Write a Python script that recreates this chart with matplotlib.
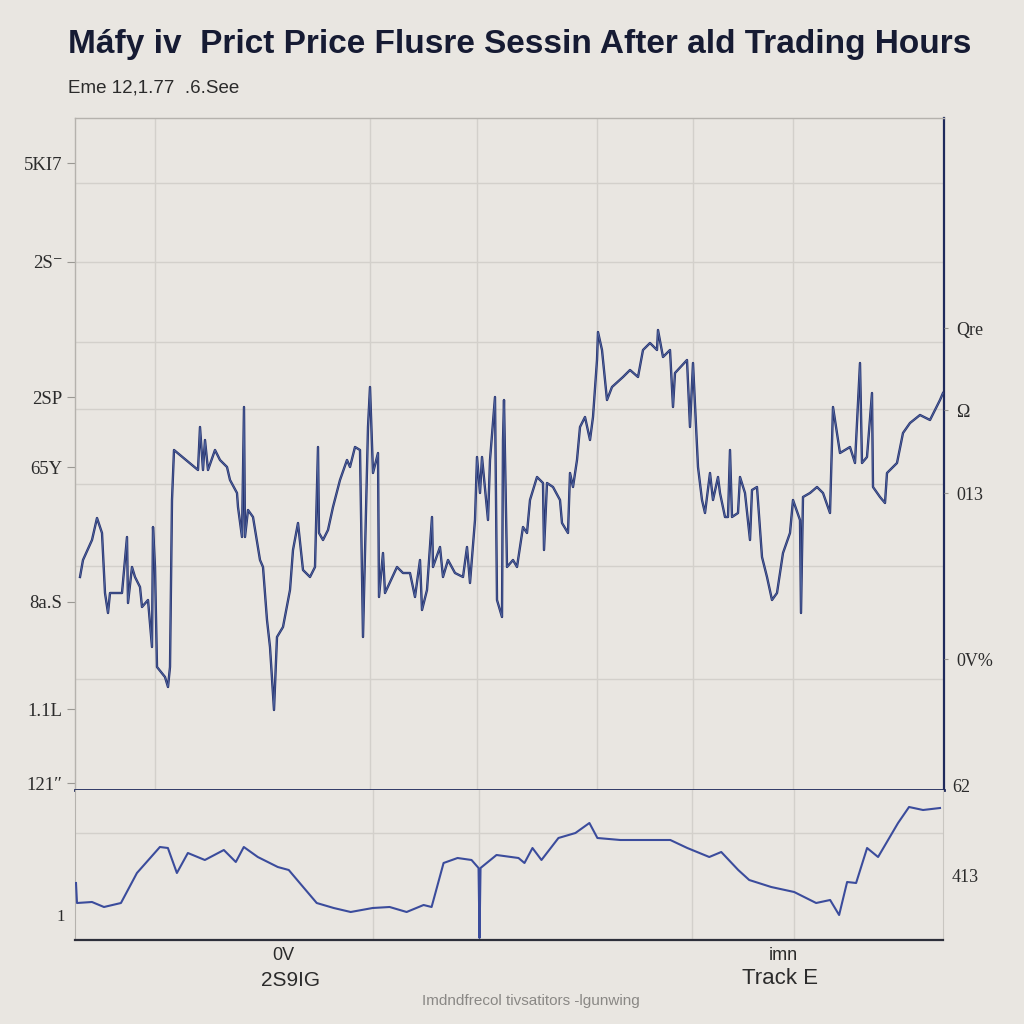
import matplotlib
matplotlib.use('Agg')
import matplotlib.pyplot as plt

BG = '#e9e6e1'
NAVY = '#1f2a5c'
LINE_MAIN = '#26316d'
LINE_SUB = '#3b4c9c'
GRID = '#d3d0cb'
TXT = '#2b2b2b'
SERIF = ['Liberation Serif', 'DejaVu Serif']

# Main session price (minutes since open, price)
t_main = [5, 8, 17, 22, 27, 30, 33, 35, 47, 52, 53, 57, 60, 65, 67, 73, 77, 78, 80, 82,
          90, 93, 95, 97, 99, 123, 125, 128, 130, 133, 140, 145, 152, 155, 162, 163, 167, 169, 170, 173,
          178, 185, 188, 192, 195, 199, 202, 208, 215, 218, 223, 227, 228, 235, 240, 243, 244, 248, 253, 258,
          265, 272, 275, 280, 285, 288, 293, 295, 298, 303, 304, 308, 310, 322, 328, 335, 340, 345, 347, 352,
          357, 358, 365, 368, 373, 380, 388, 392, 395, 400, 402, 405, 407, 413, 415, 418, 420, 422, 427, 428,
          429, 432, 438, 442, 448, 452, 455, 462, 468, 469, 472, 478, 485, 487, 493, 495, 498, 502, 505, 510,
          515, 518, 522, 523, 527, 532, 537, 548, 555, 563, 568, 575, 582, 583, 588, 595, 598, 600, 612, 615,
          618, 623, 627, 630, 635, 638, 643, 645, 650, 653, 655, 657, 663, 665, 670, 675, 677, 682, 687, 692,
          697, 702, 708, 715, 718, 725, 726, 728, 735, 742, 748, 755, 758, 762, 765, 775, 780, 785, 787, 792,
          797, 798, 805, 810, 812, 822, 828, 835, 845, 855, 865, 868]
p_main = [171.3, 173.0, 175.0, 177.2, 175.7, 169.7, 167.7, 169.7, 169.7, 175.3, 168.7, 172.3, 171.3, 170.3, 168.3, 169.0, 164.3, 176.3, 172.3, 162.3,
          161.3, 160.3, 162.3, 179.0, 184.0, 182.0, 186.3, 182.0, 185.0, 182.0, 184.0, 183.0, 182.3, 181.0, 179.7, 178.3, 175.3, 188.3, 175.3, 178.0,
          177.3, 173.0, 172.3, 167.0, 164.3, 158.0, 165.3, 166.3, 170.0, 174.0, 176.7, 173.0, 172.0, 171.3, 172.3, 184.3, 175.7, 175.0, 176.0, 178.3,
          181.0, 183.0, 182.3, 184.3, 184.0, 165.3, 186.3, 190.3, 181.7, 183.7, 169.3, 173.7, 169.7, 172.3, 171.7, 171.7, 169.3, 173.0, 168.0, 170.0,
          177.3, 172.3, 174.3, 171.3, 173.0, 171.7, 171.3, 174.3, 170.7, 177.0, 183.3, 179.7, 183.3, 177.0, 183.0, 186.7, 189.3, 169.0, 167.3, 185.0,
          189.0, 172.3, 173.0, 172.3, 176.3, 175.7, 179.0, 181.3, 180.7, 174.0, 180.7, 180.3, 179.0, 176.7, 175.7, 181.7, 180.3, 183.0, 186.3, 187.3,
          185.0, 187.3, 193.0, 195.8, 194.0, 189.0, 190.3, 191.3, 192.0, 191.3, 194.0, 194.7, 194.0, 196.0, 193.3, 194.0, 188.3, 191.7, 193.0, 186.3,
          192.7, 182.3, 179.0, 177.7, 181.7, 179.0, 181.3, 179.7, 177.3, 177.3, 184.0, 177.3, 177.7, 181.3, 179.7, 175.0, 180.0, 180.3, 173.3, 171.3,
          169.0, 169.7, 173.7, 175.7, 179.0, 177.0, 167.7, 179.3, 179.7, 180.3, 179.7, 177.7, 188.3, 185.7, 183.7, 184.3, 182.7, 192.7, 182.7, 183.3,
          189.7, 180.3, 179.3, 178.7, 181.7, 182.7, 185.7, 186.7, 187.5, 187.0, 189.0, 189.7]

# After-hours track (lower panel)
t_sub = [1, 2, 17, 29, 46, 62, 85, 93, 102, 113, 130, 149, 161, 169, 183, 203, 214, 225, 242, 259,
         276, 298, 315, 332, 349, 357, 369, 383, 397, 404, 405, 406, 422, 444, 450, 458, 467, 484, 501, 515,
         523, 546, 579, 596, 613, 635, 647, 664, 675, 697, 720, 742, 756, 765, 773, 782, 793, 804, 824, 835,
         849, 866]
v_sub = [57, 37, 38, 33, 37, 67, 93, 92, 67, 87, 80, 90, 78, 93, 83, 73, 70, 57, 37, 32,
         28, 32, 33, 28, 35, 33, 77, 82, 80, 72, 2, 72, 85, 82, 77, 92, 80, 102, 107, 117,
         102, 100, 100, 100, 92, 83, 88, 70, 60, 53, 48, 37, 40, 25, 58, 57, 92, 83, 117, 133,
         130, 132]

# Tick texts as shown
left_ticks = [212.7, 202.8, 189.3, 182.3, 168.8, 158.1, 150.7]
left_labels = ['5KI7', '2S\u207b', '2SP', '65Y', '8a.S', '1.1L', '121\u2033']
right_ticks = [196.2, 188.0, 179.7, 163.1]
right_labels = ['Qre', '\u03a9', '013', '0V%']
grid_y = [210.7, 202.8, 194.8, 188.1, 180.6, 172.4, 161.1]
grid_x = [80, 295, 402, 522, 618, 718]
sub_grid_x = [298, 404, 618, 720]
sub_grid_y = [107]

fig = plt.figure(figsize=(10.24, 10.24), dpi=100, facecolor=BG)

ax = fig.add_axes([75 / 1024, 1 - 790 / 1024, 869 / 1024, 672 / 1024], facecolor=BG)
ax.set_xlim(0, 869)
ax.set_ylim(150, 217.2)
for g in grid_y:
    ax.axhline(g, color=GRID, lw=1.0, zorder=1)
for g in grid_x:
    ax.axvline(g, color=GRID, lw=1.0, zorder=1)
ax.plot(t_main, p_main, color=LINE_MAIN, lw=1.7, zorder=3)
ax.plot(t_main, p_main, color='#6f8cc4', lw=0.6, alpha=0.6, zorder=4)

ax.set_xticks([])
ax.set_yticks(left_ticks)
ax.set_yticklabels(left_labels, family=SERIF, fontsize=13.5, color=TXT)
ax.tick_params(axis='y', length=6, color='#9a9893', pad=3)
for s in ['left', 'top']:
    ax.spines[s].set_color('#b5b2ad')
    ax.spines[s].set_linewidth(1.0)
ax.spines['right'].set_color(NAVY)
ax.spines['right'].set_linewidth(1.6)
ax.spines['bottom'].set_color(NAVY)
ax.spines['bottom'].set_linewidth(2.0)

axr = ax.twinx()
axr.set_ylim(ax.get_ylim())
axr.set_yticks(right_ticks)
axr.set_yticklabels(right_labels, family=SERIF, fontsize=13, color=TXT)
axr.tick_params(axis='y', length=3, color='#9a9893', pad=6)
for s in axr.spines.values():
    s.set_visible(False)

# Lower panel
bx = fig.add_axes([75 / 1024, 1 - 940 / 1024, 868 / 1024, 150 / 1024], facecolor=BG)
bx.set_xlim(0, 869)
bx.set_ylim(0, 150)
for g in sub_grid_y:
    bx.axhline(g, color=GRID, lw=1.0, zorder=1)
for g in sub_grid_x:
    bx.axvline(g, color=GRID, lw=1.0, zorder=1)
bx.plot(t_sub, v_sub, color=LINE_SUB, lw=1.5, zorder=3)
bx.set_yticks([63])
bx.set_yticklabels([])
bx.set_xticks([])
bx.tick_params(axis='y', length=0)
bx.spines['top'].set_visible(False)
bx.spines['left'].set_color('#b5b2ad')
bx.spines['right'].set_color('#c9c6c1')
bx.spines['bottom'].set_color('#2d2f3a')
bx.spines['bottom'].set_linewidth(1.6)
bx.text(1.01, 63, '413', transform=bx.get_yaxis_transform(), fontsize=13,
        family=SERIF, color=TXT, va='center', ha='left')
bx.text(-0.012, 23, '1', transform=bx.get_yaxis_transform(), fontsize=12,
        family=SERIF, color=TXT, va='center', ha='right')
ax.text(1.01, 150.3, '62', transform=ax.get_yaxis_transform(), fontsize=13,
        family=SERIF, color=TXT, va='center', ha='left')

# Bottom x labels
fig.text(283 / 1024, 1 - 955 / 1024, '0V', fontsize=13, color=TXT, ha='center', va='center',
         family='Liberation Sans')
fig.text(290 / 1024, 1 - 980 / 1024, '2S9IG', fontsize=15, color=TXT, ha='center', va='center',
         family='Liberation Sans')
fig.text(783 / 1024, 1 - 955 / 1024, 'imn', fontsize=13, color=TXT, ha='center', va='center',
         family='Liberation Sans')
fig.text(780 / 1024, 1 - 978 / 1024, 'Track E', fontsize=16, color=TXT, ha='center', va='center',
         family='Liberation Sans')
fig.text(531 / 1024, 1 - 1001 / 1024, 'Imdndfrecol tivsatitors -lgunwing', fontsize=11,
         color='#8a8885', ha='center', va='center', family='Liberation Sans')

# Title and subtitle
fig.text(68 / 1024, 1 - 44 / 1024,
         'M\u00e1fy iv  Prict Price Flusre Sessin After ald Trading Hours',
         fontsize=24, fontweight='bold', color='#161b33', ha='left', va='center',
         family='Liberation Sans')
fig.text(68 / 1024, 1 - 88 / 1024, 'Eme 12,1.77  .6.See', fontsize=13.5, color=TXT,
         ha='left', va='center', family='Liberation Sans')

fig.savefig('out.png', dpi=100, facecolor=BG)
